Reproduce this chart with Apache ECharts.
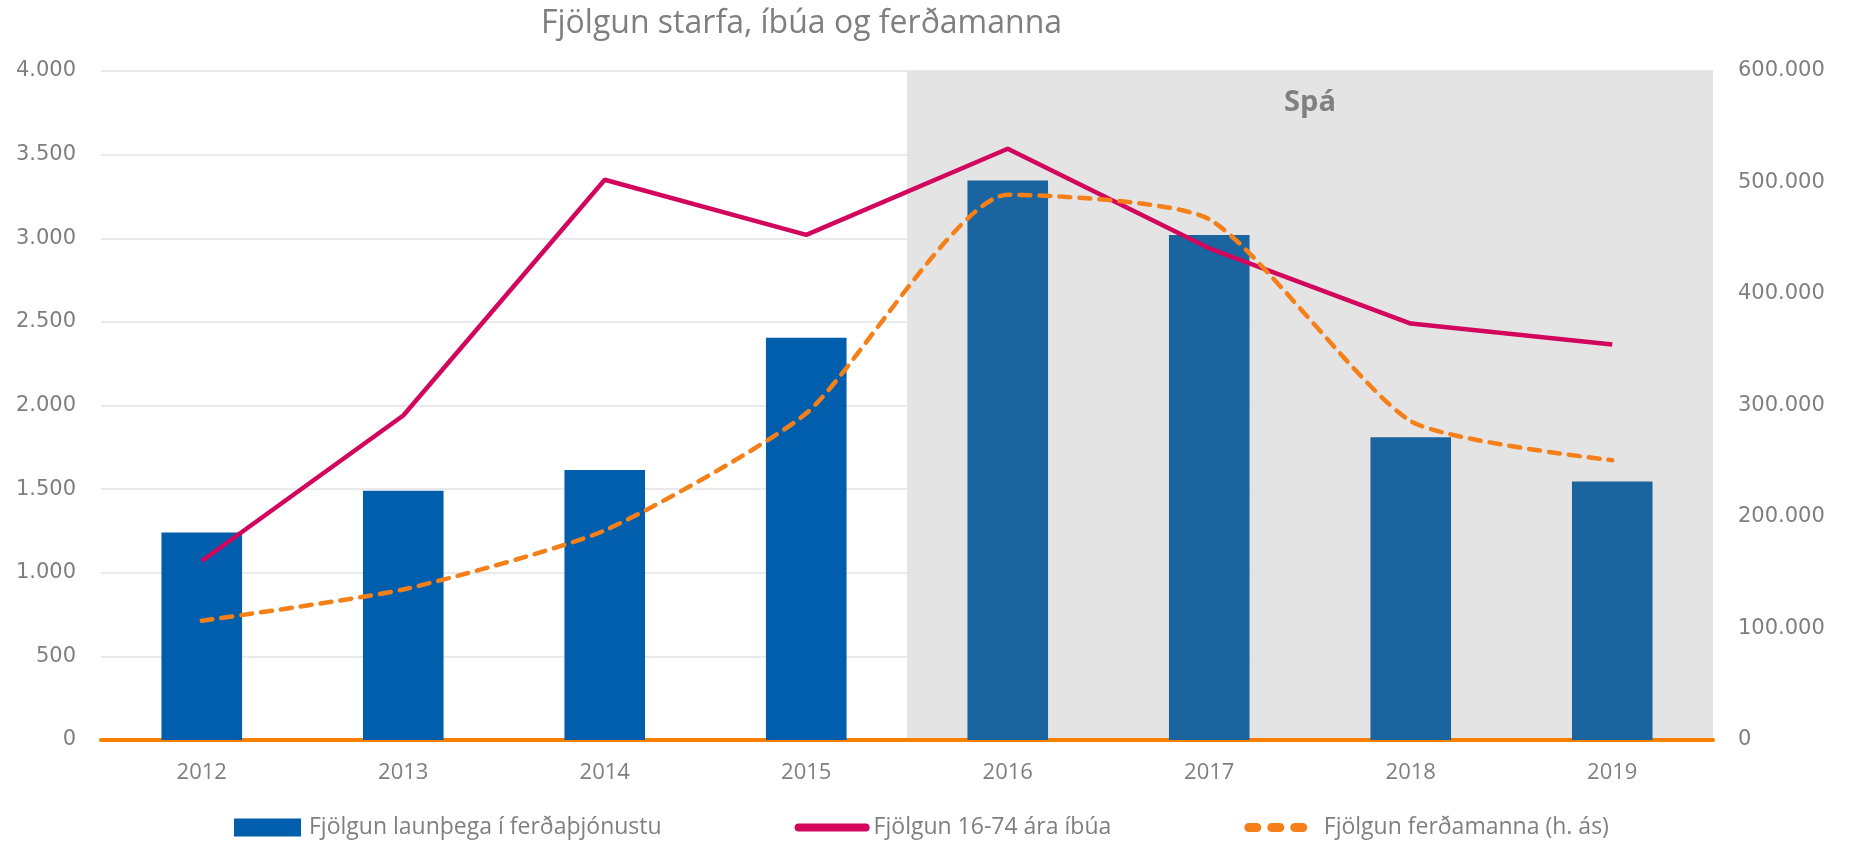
<!DOCTYPE html>
<html>
<head>
<meta charset="utf-8">
<script src="https://cdn.jsdelivr.net/npm/echarts@6/dist/echarts.min.js"></script>
<style>
html,body{margin:0;padding:0;background:#fff;}
#chart{width:1850px;height:846px;}
</style>
</head>
<body>
<div id="chart"></div>
<script>
const titleText = 'Fjölgun starfa, íbúa og ferðamanna';
const years = ['2012','2013','2014','2015','2016','2017','2018','2019'];
const forecastStart = '2016';
const forecastLabel = 'Spá';
const seriesNames = ['Fjölgun launþega í ferðaþjónustu', 'Fjölgun 16-74 ára íbúa', 'Fjölgun ferðamanna (h. ás)'];
const workers = [1240, 1490, 1615, 2405, 3345, 3020, 1810, 1545];
const residents = [1070, 1940, 3350, 3020, 3535, 2940, 2490, 2365];
const tourists = [107000, 135000, 188000, 293000, 489000, 467000, 286000, 251000];
const leftTicks = {min: 0, max: 4000, interval: 500};
const rightTicks = {min: 0, max: 600000, interval: 100000};

const fmt = v => String(v).replace(/\B(?=(\d{3})+(?!\d))/g, '.');
const fIdx = years.indexOf(forecastStart);

const chart = echarts.init(document.getElementById('chart'));
const sans = "'Open Sans', sans-serif";
chart.setOption({
  backgroundColor: '#ffffff',
  animation: false,
  title: {
    text: titleText,
    left: 536, top: 3,
    textStyle: {fontFamily: sans, fontWeight: 'normal', fontSize: 32, color: '#7f7f7f'}
  },
  legend: {
    bottom: 2, left: 229,
    itemWidth: 67, itemHeight: 18, itemGap: 133,
    textStyle: {fontFamily: sans, fontSize: 23, color: '#7f7f7f', padding: [0, 0, 0, 3]},
    data: [
      {name: seriesNames[0], icon: 'rect'},
      {name: seriesNames[1], itemStyle: {color: 'transparent', borderWidth: 0},
        lineStyle: {width: 8, cap: 'round'}},
      {name: seriesNames[2], itemStyle: {color: 'transparent', borderWidth: 0},
        lineStyle: {width: 9, type: [8, 15], cap: 'round'}}
    ]
  },
  grid: {left: 101, right: 137, top: 71, bottom: 106, containLabel: false},
  xAxis: [{
    type: 'category', data: years,
    axisLine: {lineStyle: {color: '#f77f00', width: 4}},
    axisTick: {show: false},
    axisLabel: {fontFamily: sans, fontSize: 22, color: '#7f7f7f', margin: 22}
  }, {
    type: 'value', min: 0, max: years.length, show: false
  }],
  yAxis: [{
    type: 'value', min: leftTicks.min, max: leftTicks.max, interval: leftTicks.interval,
    axisLine: {show: false}, axisTick: {show: false},
    splitLine: {lineStyle: {color: '#e3e3e3', width: 1.5}},
    axisLabel: {fontFamily: "'DejaVu Sans', sans-serif", fontSize: 21, color: '#7f7f7f', margin: 25, formatter: fmt}
  }, {
    type: 'value', min: rightTicks.min, max: rightTicks.max, interval: rightTicks.interval,
    axisLine: {show: false}, axisTick: {show: false}, splitLine: {show: false},
    axisLabel: {fontFamily: "'DejaVu Sans', sans-serif", fontSize: 21, color: '#7f7f7f', margin: 25, formatter: fmt}
  }],
  series: [{
    name: 'forecastBg', type: 'line', xAxisIndex: 1, yAxisIndex: 0, data: [], z: -1,
    silent: true,
    markArea: {
      z: -1,
      silent: true,
      itemStyle: {color: '#e4e4e4'},
      label: {show: true, position: 'insideTop', distance: 17, formatter: forecastLabel,
        fontFamily: sans, fontWeight: 'bold', fontSize: 29, color: '#808080'},
      data: [[{xAxis: fIdx}, {xAxis: years.length}]]
    }
  }, {
    name: seriesNames[0], type: 'bar', xAxisIndex: 0, yAxisIndex: 0,
    barWidth: '40%', z: 2,
    itemStyle: {color: '#005eac'},
    data: workers.map((v, i) => ({value: v, itemStyle: {color: i >= fIdx ? '#1a64a0' : '#005eac'}}))
  }, {
    name: seriesNames[1], type: 'line', xAxisIndex: 0, yAxisIndex: 0,
    symbol: 'none', z: 3,
    lineStyle: {color: '#d2065c', width: 4.5},
    itemStyle: {color: '#d2065c'},
    data: residents
  }, {
    name: seriesNames[2], type: 'line', xAxisIndex: 0, yAxisIndex: 1,
    symbol: 'none', smooth: 0.2, z: 4,
    lineStyle: {color: '#f5801a', width: 4.5, type: [11, 9], cap: 'round'},
    itemStyle: {color: '#f5801a'},
    data: tourists
  }]
});
</script>
</body>
</html>
